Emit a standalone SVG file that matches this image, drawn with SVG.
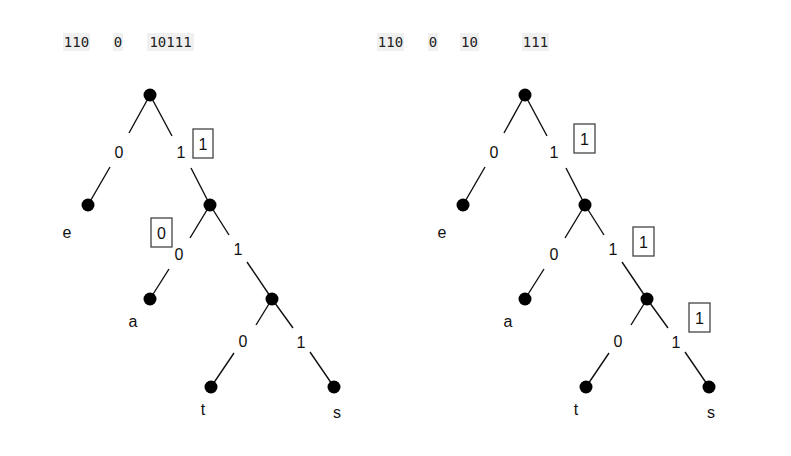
<svg xmlns="http://www.w3.org/2000/svg" width="791" height="456" viewBox="0 0 791 456">
<style>
.code{font-family:"DejaVu Sans Mono","Liberation Mono",monospace;font-size:14px;fill:#222;text-anchor:middle}
.codebg{fill:#f0f0f0}
.lbl{font-family:"Liberation Sans",Arial,sans-serif;font-size:16px;fill:#111;text-anchor:middle}
.edge{stroke:#111;stroke-width:1.4;fill:none}
.node{fill:#000}
.box{fill:#fff;stroke:#444;stroke-width:1.3}
</style>
<rect width="791" height="456" fill="#fff"/>
<g id="codes">
<rect class="codebg" x="63" y="33" width="27" height="18"/><text class="code" x="76.5" y="47">110</text>
<rect class="codebg" x="113" y="33" width="10" height="18"/><text class="code" x="118" y="47">0</text>
<rect class="codebg" x="147" y="33" width="47" height="18"/><text class="code" x="170.5" y="47">10111</text>
<rect class="codebg" x="377" y="33" width="27" height="18"/><text class="code" x="390.5" y="47">110</text>
<rect class="codebg" x="428" y="33" width="10" height="18"/><text class="code" x="433" y="47">0</text>
<rect class="codebg" x="460" y="33" width="19" height="18"/><text class="code" x="469.5" y="47">10</text>
<rect class="codebg" x="522" y="33" width="27" height="18"/><text class="code" x="535.5" y="47">111</text>
</g>
<g id="connectors">
<path class="edge" d="M150,95 L129,133 M110,167 L88,205"/>
<path class="edge" d="M150,95 L172,136 M191,168 L210,205"/>
<path class="edge" d="M210,205 L190,238 M169,269 L150,299"/>
<path class="edge" d="M210,205 L229,235 M247,262 L272,299"/>
<path class="edge" d="M272,299 L256,325 M234,353 L211,387"/>
<path class="edge" d="M272,299 L293,328 M310,352 L334,387"/>
<path class="edge" d="M525,95 L504,133 M485,167 L463,205"/>
<path class="edge" d="M525,95 L547,136 M566,168 L585,205"/>
<path class="edge" d="M585,205 L565,238 M544,269 L525,299"/>
<path class="edge" d="M585,205 L604,235 M622,262 L647,299"/>
<path class="edge" d="M647,299 L631,325 M609,353 L586,387"/>
<path class="edge" d="M647,299 L668,328 M685,352 L709,387"/>
</g>
<g id="edge-labels">
<text class="lbl" x="119" y="158">0</text>
<text class="lbl" x="181" y="158">1</text>
<text class="lbl" x="179" y="260">0</text>
<text class="lbl" x="238" y="255">1</text>
<text class="lbl" x="243" y="347">0</text>
<text class="lbl" x="301" y="348">1</text>
<text class="lbl" x="494" y="158">0</text>
<text class="lbl" x="554" y="158">1</text>
<text class="lbl" x="554" y="260">0</text>
<text class="lbl" x="613" y="255">1</text>
<text class="lbl" x="618" y="347">0</text>
<text class="lbl" x="676" y="348">1</text>
</g>
<g id="left-tree">
<g id="L-root"><circle class="node" cx="150" cy="95" r="6.5"/></g>
<g id="L-e"><circle class="node" cx="88" cy="205" r="6.5"/><text class="lbl" x="67" y="238">e</text></g>
<g id="L-n1"><circle class="node" cx="210" cy="205" r="6.5"/></g>
<g id="L-a"><circle class="node" cx="150" cy="299" r="6.5"/><text class="lbl" x="133" y="327">a</text></g>
<g id="L-n2"><circle class="node" cx="272" cy="299" r="6.5"/></g>
<g id="L-t"><circle class="node" cx="211" cy="387" r="6.5"/><text class="lbl" x="203" y="415">t</text></g>
<g id="L-s"><circle class="node" cx="334" cy="387" r="6.5"/><text class="lbl" x="337" y="418">s</text></g>
<g id="L-box1"><rect class="box" x="193" y="129" width="20" height="29"/><text class="lbl" x="203" y="150">1</text></g>
<g id="L-box0"><rect class="box" x="151" y="218" width="21" height="29"/><text class="lbl" x="161.5" y="239">0</text></g>
</g>
<g id="right-tree">
<g id="R-root"><circle class="node" cx="525" cy="95" r="6.5"/></g>
<g id="R-e"><circle class="node" cx="463" cy="205" r="6.5"/><text class="lbl" x="442" y="238">e</text></g>
<g id="R-n1"><circle class="node" cx="585" cy="205" r="6.5"/></g>
<g id="R-a"><circle class="node" cx="525" cy="299" r="6.5"/><text class="lbl" x="508" y="327">a</text></g>
<g id="R-n2"><circle class="node" cx="647" cy="299" r="6.5"/></g>
<g id="R-t"><circle class="node" cx="586" cy="387" r="6.5"/><text class="lbl" x="576" y="415">t</text></g>
<g id="R-s"><circle class="node" cx="709" cy="387" r="6.5"/><text class="lbl" x="711" y="418">s</text></g>
<g id="R-box1"><rect class="box" x="574" y="124" width="21" height="29"/><text class="lbl" x="584.5" y="145">1</text></g>
<g id="R-box2"><rect class="box" x="633" y="227" width="21" height="29"/><text class="lbl" x="643.5" y="248">1</text></g>
<g id="R-box3"><rect class="box" x="689" y="303" width="21" height="29"/><text class="lbl" x="699.5" y="324">1</text></g>
</g>
</svg>
